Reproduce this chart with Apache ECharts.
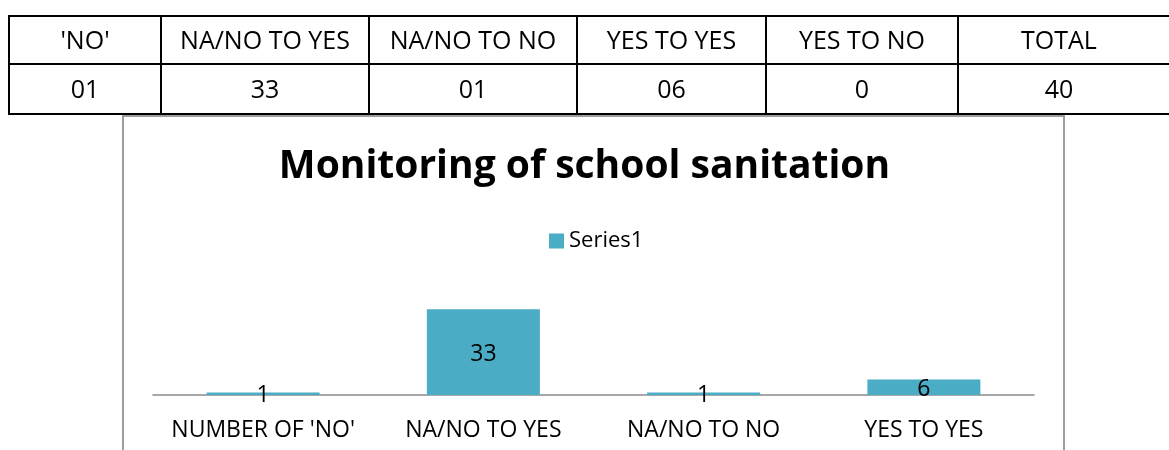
<!DOCTYPE html>
<html>
<head>
<meta charset="utf-8">
<script src="https://cdn.jsdelivr.net/npm/echarts@6/dist/echarts.min.js"></script>
<style>
  html, body { margin: 0; padding: 0; background: #ffffff; }
  #chart { width: 1169px; height: 450px; }
</style>
</head>
<body>
<div id="chart"></div>
<script>
// Summary table above the chart
const tableHeaders = ["'NO'", 'NA/NO TO YES', 'NA/NO TO NO', 'YES TO YES', 'YES TO NO', 'TOTAL'];
const tableValues = ['01', '33', '01', '06', '0', '40'];

// Bar chart data
const categories = ["NUMBER OF 'NO'", 'NA/NO TO YES', 'NA/NO TO NO', 'YES TO YES'];
const series1 = [1, 33, 1, 6];

const FONT = "'Open Sans', 'Liberation Sans', sans-serif";
const BAR_COLOR = '#4BACC6';

// Table layout (pixel edges of columns and rows)
const colEdges = [9, 161, 369, 577, 766, 958, 1185];
const rowEdges = [16, 64, 114];

function tableGraphics() {
  const g = [];
  const right = colEdges[colEdges.length - 1];
  rowEdges.forEach(function (y) {
    g.push({ type: 'line', z: 100, shape: { x1: colEdges[0] - 1, y1: y, x2: right, y2: y },
             style: { stroke: '#000', lineWidth: 2 } });
  });
  colEdges.slice(0, -1).forEach(function (x) {
    g.push({ type: 'line', z: 100, shape: { x1: x, y1: rowEdges[0], x2: x, y2: rowEdges[2] },
             style: { stroke: '#000', lineWidth: 2 } });
  });
  const rows = [tableHeaders, tableValues];
  rows.forEach(function (row, r) {
    const cy = (rowEdges[r] + rowEdges[r + 1]) / 2 + 2;
    row.forEach(function (txt, c) {
      // the last column runs past the page edge, so centre its text in a fixed width
      const cx = c === row.length - 1 ? colEdges[c] + 101 : (colEdges[c] + colEdges[c + 1]) / 2;
      g.push({ type: 'text', z: 101,
        style: { text: txt, x: cx, y: cy,
                 textAlign: 'center', textVerticalAlign: 'middle', align: 'center', verticalAlign: 'middle',
                 font: '25px ' + FONT, fill: '#000' } });
    });
  });
  return g;
}

const chart = echarts.init(document.getElementById('chart'), null, { renderer: 'canvas' });

chart.setOption({
  backgroundColor: '#ffffff',
  animation: false,
  title: {
    text: 'Monitoring of school sanitation',
    left: 'center',
    top: 147,
    padding: 0,
    textStyle: { fontFamily: FONT, fontWeight: 'bold', fontSize: 39, color: '#000' }
  },
  legend: {
    left: 549,
    top: 230,
    padding: 0,
    itemWidth: 15,
    itemHeight: 15,
    icon: 'rect',
    textStyle: { fontFamily: FONT, fontSize: 22, color: '#000' },
    data: ['Series1']
  },
  grid: { left: 153, right: 135, top: 304, bottom: 55 },
  xAxis: {
    type: 'category',
    data: categories,
    axisLine: { lineStyle: { color: '#8c8c8c', width: 1.5 } },
    axisTick: { show: false },
    axisLabel: { fontFamily: FONT, fontSize: 23, color: '#000', margin: 24, interval: 0 }
  },
  yAxis: { type: 'value', min: 0, max: 35, show: false },
  series: [{
    name: 'Series1',
    type: 'bar',
    data: series1,
    barWidth: 113,
    itemStyle: { color: BAR_COLOR },
    label: { show: true, position: 'inside', offset: [0, 2], fontFamily: FONT, fontSize: 23, color: '#000' }
  }],
  graphic: [
    { type: 'rect', z: 50, shape: { x: 123, y: 116, width: 941, height: 400 },
      style: { fill: 'none', stroke: '#9d9d9d', lineWidth: 2 } }
  ].concat(tableGraphics())
});
</script>
</body>
</html>
